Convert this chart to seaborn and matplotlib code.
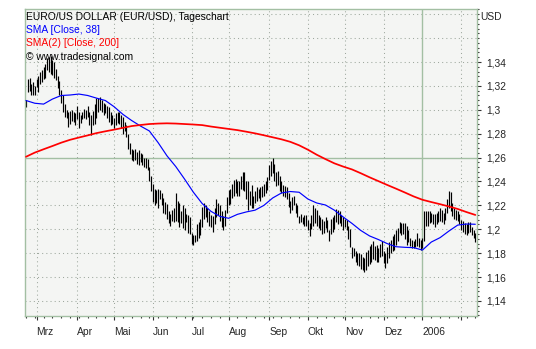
import numpy as np
import pandas as pd
import matplotlib
matplotlib.use("Agg")
import matplotlib.pyplot as plt
import seaborn as sns
from matplotlib.ticker import FixedLocator, MultipleLocator, NullFormatter

# ---- data: EUR/USD daily range (trading days) -------------------------------
bar_dates = pd.bdate_range("2005-02-21", "2006-02-13")

low = [
    1.302, 1.315, 1.316, 1.312, 1.312, 1.312, 1.319, 1.315, 1.322, 1.323,
    1.326, 1.327, 1.333, 1.332, 1.330, 1.329, 1.327, 1.325, 1.318, 1.312,
    1.306, 1.298, 1.294, 1.293, 1.286, 1.288, 1.291, 1.290, 1.287, 1.292,
    1.285, 1.289, 1.292, 1.293, 1.292, 1.294, 1.287, 1.279, 1.287, 1.288,
    1.293, 1.298, 1.300, 1.298, 1.296, 1.297, 1.293, 1.290, 1.287, 1.288,
    1.285, 1.287, 1.289, 1.288, 1.285, 1.280, 1.282, 1.277, 1.267, 1.263,
    1.258, 1.257, 1.258, 1.255, 1.254, 1.256, 1.254, 1.252, 1.251, 1.250,
    1.240, 1.232, 1.223, 1.220, 1.222, 1.218, 1.225, 1.220, 1.214, 1.213,
    1.209, 1.205, 1.203, 1.207, 1.206, 1.207, 1.206, 1.202, 1.205, 1.201,
    1.199, 1.206, 1.197, 1.196, 1.188, 1.187, 1.189, 1.190, 1.193, 1.195,
    1.202, 1.209, 1.210, 1.206, 1.203, 1.202, 1.198, 1.204, 1.210, 1.212,
    1.207, 1.202, 1.199, 1.203, 1.214, 1.220, 1.221, 1.226, 1.228, 1.230,
    1.228, 1.228, 1.234, 1.233, 1.232, 1.225, 1.216, 1.220, 1.218, 1.218,
    1.222, 1.224, 1.226, 1.224, 1.227, 1.228, 1.230, 1.233, 1.241, 1.245,
    1.247, 1.240, 1.236, 1.237, 1.232, 1.230, 1.228, 1.227, 1.225, 1.219,
    1.214, 1.216, 1.220, 1.214, 1.210, 1.205, 1.206, 1.204, 1.203, 1.203,
    1.199, 1.194, 1.200, 1.203, 1.205, 1.203, 1.201, 1.199, 1.196, 1.197,
    1.201, 1.198, 1.190, 1.196, 1.198, 1.200, 1.206, 1.204, 1.205, 1.203,
    1.199, 1.202, 1.199, 1.192, 1.185, 1.176, 1.178, 1.173, 1.170, 1.169,
    1.167, 1.166, 1.164, 1.166, 1.169, 1.171, 1.173, 1.175, 1.174, 1.173,
    1.173, 1.177, 1.178, 1.172, 1.168, 1.172, 1.176, 1.180, 1.182, 1.183,
    1.187, 1.190, 1.197, 1.195, 1.196, 1.192, 1.187, 1.189, 1.186, 1.184,
    1.184, 1.185, 1.186, 1.185, 1.183, 1.184, 1.190, 1.203, 1.203, 1.205,
    1.206, 1.204, 1.202, 1.204, 1.206, 1.207, 1.206, 1.204, 1.208, 1.214,
    1.218, 1.215, 1.211, 1.209, 1.208, 1.207, 1.204, 1.199, 1.198, 1.196,
    1.195, 1.197, 1.198, 1.195, 1.193, 1.189,
]

high = [
    1.308, 1.326, 1.327, 1.322, 1.323, 1.320, 1.326, 1.328, 1.332, 1.333,
    1.336, 1.338, 1.343, 1.344, 1.345, 1.342, 1.340, 1.334, 1.328, 1.324,
    1.317, 1.312, 1.305, 1.300, 1.298, 1.299, 1.300, 1.298, 1.297, 1.303,
    1.298, 1.296, 1.298, 1.301, 1.300, 1.303, 1.298, 1.296, 1.299, 1.305,
    1.310, 1.310, 1.311, 1.308, 1.306, 1.305, 1.303, 1.302, 1.298, 1.296,
    1.293, 1.297, 1.298, 1.298, 1.296, 1.294, 1.290, 1.287, 1.280, 1.272,
    1.267, 1.266, 1.267, 1.265, 1.266, 1.264, 1.263, 1.260, 1.260, 1.259,
    1.252, 1.245, 1.238, 1.234, 1.233, 1.234, 1.233, 1.230, 1.226, 1.223,
    1.221, 1.215, 1.213, 1.216, 1.218, 1.230, 1.224, 1.222, 1.215, 1.220,
    1.218, 1.213, 1.212, 1.210, 1.197, 1.195, 1.195, 1.204, 1.206, 1.209,
    1.219, 1.222, 1.220, 1.218, 1.215, 1.212, 1.211, 1.218, 1.225, 1.222,
    1.220, 1.215, 1.211, 1.216, 1.227, 1.233, 1.234, 1.238, 1.241, 1.242,
    1.240, 1.240, 1.245, 1.248, 1.248, 1.240, 1.240, 1.232, 1.237, 1.228,
    1.232, 1.235, 1.234, 1.235, 1.236, 1.238, 1.240, 1.244, 1.254, 1.257,
    1.260, 1.255, 1.248, 1.249, 1.245, 1.240, 1.237, 1.236, 1.235, 1.230,
    1.224, 1.227, 1.228, 1.222, 1.220, 1.211, 1.213, 1.210, 1.212, 1.212,
    1.208, 1.205, 1.212, 1.220, 1.218, 1.216, 1.212, 1.210, 1.209, 1.207,
    1.210, 1.208, 1.199, 1.209, 1.210, 1.212, 1.217, 1.216, 1.215, 1.212,
    1.210, 1.209, 1.208, 1.203, 1.200, 1.185, 1.184, 1.182, 1.180, 1.180,
    1.179, 1.177, 1.176, 1.181, 1.183, 1.186, 1.188, 1.190, 1.186, 1.187,
    1.184, 1.188, 1.190, 1.182, 1.180, 1.185, 1.189, 1.191, 1.194, 1.196,
    1.199, 1.201, 1.206, 1.205, 1.205, 1.205, 1.203, 1.199, 1.193, 1.191,
    1.190, 1.192, 1.197, 1.193, 1.191, 1.193, 1.215, 1.215, 1.215, 1.215,
    1.214, 1.213, 1.213, 1.214, 1.215, 1.218, 1.216, 1.214, 1.218, 1.225,
    1.232, 1.231, 1.222, 1.218, 1.216, 1.215, 1.213, 1.208, 1.207, 1.205,
    1.204, 1.206, 1.206, 1.202, 1.199, 1.197,
]

# moving averages, sampled on Mondays
sma_dates = pd.date_range("2005-02-21", "2006-02-13", freq="W-MON")
sma38 = [
    1.3078, 1.3055, 1.3048, 1.3090, 1.3120, 1.3124, 1.3132, 1.3120, 1.3098, 1.3078,
    1.3026, 1.2962, 1.2910, 1.2864, 1.2823, 1.2725, 1.2615, 1.2525, 1.2420, 1.2310,
    1.2215, 1.2150, 1.2108, 1.2092, 1.2125, 1.2145, 1.2160, 1.2200, 1.2262, 1.2304,
    1.2316, 1.2310, 1.2253, 1.2220, 1.2203, 1.2160, 1.2103, 1.2049, 1.1990, 1.1944,
    1.1914, 1.1880, 1.1854, 1.1849, 1.1846, 1.1826, 1.1893, 1.1930, 1.1985, 1.2035,
    1.2044, 1.2042,
]
sma200 = [
    1.2607, 1.2642, 1.2670, 1.2697, 1.2725, 1.2749, 1.2768, 1.2786, 1.2805, 1.2820,
    1.2834, 1.2849, 1.2864, 1.2873, 1.2881, 1.2885, 1.2887, 1.2885, 1.2881, 1.2877,
    1.2872, 1.2860, 1.2850, 1.2840, 1.2830, 1.2817, 1.2803, 1.2787, 1.2770, 1.2753,
    1.2732, 1.2703, 1.2666, 1.2624, 1.2587, 1.2552, 1.2525, 1.2501, 1.2469, 1.2435,
    1.2403, 1.2371, 1.2340, 1.2308, 1.2275, 1.2247, 1.2228, 1.2210, 1.2191, 1.2170,
    1.2144, 1.2120,
]

month_labels = ["Mrz", "Apr", "Mai", "Jun", "Jul", "Aug", "Sep", "Okt",
                "Nov", "Dez", "2006", ""]
price_labels = [1.14, 1.16, 1.18, 1.20, 1.22, 1.24, 1.26, 1.28, 1.30, 1.32, 1.34]
grid_levels = price_labels + [1.36, 1.38]

# ---- frames ------------------------------------------------------------------
bars = pd.DataFrame({"date": bar_dates, "low": low, "high": high})
bars["x"] = np.arange(len(bars))
pos = pd.Series(bars["x"].values, index=bar_dates)

sma = pd.DataFrame({"date": sma_dates, "sma38": sma38, "sma200": sma200})
sma["x"] = pos.loc[sma_dates].values

month_first = bars.groupby(bars["date"].dt.to_period("M"))["x"].min().iloc[1:]
mondays = bars.loc[bars["date"].dt.weekday == 0, "x"]

# ---- style -------------------------------------------------------------------
sns.set_style("white")
plt.rcParams["font.family"] = ["Liberation Sans", "DejaVu Sans"]
FS = 7.4
frame_col = "#a3bfa3"
dot_col = "#9ea89e"

fig = plt.figure(figsize=(5.36, 3.49), dpi=100)
fig.patch.set_facecolor("white")
ax = fig.add_axes([24.5 / 536, 33 / 349, 452.5 / 536, 307 / 349])
ax.set_facecolor("#f4f5f3")

# grid
for lvl in grid_levels:
    if abs(lvl - 1.26) < 1e-9:
        ax.axhline(lvl, color=frame_col, lw=1.0, zorder=1)
    else:
        ax.axhline(lvl, color=dot_col, lw=0.75, ls=(0, (1, 3)), zorder=1)
for xm, lab in zip(month_first.values, month_labels):
    if lab == "2006":
        ax.axvline(xm, color=frame_col, lw=1.0, zorder=1)
    else:
        ax.axvline(xm, color=dot_col, lw=0.75, ls=(0, (1, 3)), zorder=1)

# price bars
ax.vlines(bars["x"], bars["low"], bars["high"], color="black", lw=0.85, zorder=2)

# moving averages
sns.lineplot(data=sma, x="x", y="sma38", color="#0000ff", lw=0.85, ax=ax, zorder=3)
sns.lineplot(data=sma, x="x", y="sma200", color="#ff0000", lw=1.25, ax=ax, zorder=3)

ax.set_xlim(-0.85, 255.95)
ax.set_ylim(1.1274, 1.3844)
ax.set_xlabel("")
ax.set_ylabel("")

# axes frame
for sp in ax.spines.values():
    sp.set_color(frame_col)
    sp.set_linewidth(1.0)

# y axis on the right
ax.yaxis.tick_right()
ax.yaxis.set_major_locator(FixedLocator(price_labels))
ax.yaxis.set_major_formatter(
    lambda v, p: f"{v:.2f}".rstrip("0").replace(".", ","))
ax.yaxis.set_minor_locator(MultipleLocator(0.004))
ax.tick_params(axis="y", which="major", direction="out", length=3, width=0.8,
               color="#333333", pad=4, labelsize=FS, right=True, left=False)
ax.tick_params(axis="y", which="minor", direction="out", length=1.6, width=0.8,
               color="#333333", right=True, left=False)

# x axis: month starts and weekly minor ticks
ax.xaxis.set_major_locator(FixedLocator(month_first.values))
ax.set_xticklabels(month_labels)
for t in ax.get_xticklabels():
    t.set_horizontalalignment("left")
ax.xaxis.set_minor_locator(FixedLocator(mondays.values))
ax.xaxis.set_minor_formatter(NullFormatter())
ax.tick_params(axis="x", which="major", direction="out", length=3, width=0.8,
               color="#333333", pad=5, labelsize=FS, bottom=True)
ax.tick_params(axis="x", which="minor", direction="out", length=1.6, width=0.8,
               color="#333333", bottom=True)

# header text
x0 = 25.5 / 536
rows = [("EURO/US DOLLAR (EUR/USD), Tageschart", "black"),
        ("SMA [Close, 38]", "#0000ff"),
        ("SMA(2) [Close, 200]", "#ff0000"),
        ("\u00a9 www.tradesignal.com", "black")]
for k, (txt, col) in enumerate(rows):
    yc = 1 - (16.7 + 13.3 * k) / 349
    fig.text(x0, yc, txt, color=col, fontsize=FS, ha="left", va="center")
fig.text(480.5 / 536, 1 - 16.7 / 349, "USD", fontsize=FS, ha="left", va="center")

fig.savefig("out.png", dpi=100)
